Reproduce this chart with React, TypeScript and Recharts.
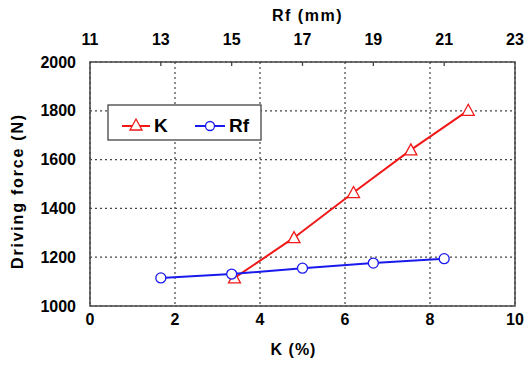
import React from 'react';
import { LineChart, Line, XAxis, YAxis, CartesianGrid, ReferenceArea, ReferenceLine, Label } from 'recharts';

// K (%) series, plotted on the bottom axis
const kValues = [3.4, 4.8, 6.2, 7.55, 8.9];
const kForce = [1115, 1280, 1465, 1640, 1802];

// Rf (mm) series, plotted on the top axis
const rfValues = [13, 15, 17, 19, 21];
const rfForce = [1115, 1131, 1155, 1176, 1194];

const kTicks = [0, 2, 4, 6, 8, 10];
const rfTicks = [11, 13, 15, 17, 19, 21, 23];
const forceTicks = [1000, 1200, 1400, 1600, 1800, 2000];

const kData = kValues.map((k, i) => ({ k, force: kForce[i] }));
const rfData = rfValues.map((rf, i) => ({ rf, force: rfForce[i] }));

const RED = '#f01818';
const BLUE = '#1a1aee';
const FONT = '"Liberation Sans", Arial, sans-serif';
const tickStyle = { fontFamily: FONT, fontSize: 16, fontWeight: 700, fill: '#000' };
const titleStyle = { fontFamily: FONT, fontSize: 16, fontWeight: 700, fill: '#000', letterSpacing: 1 };

const Triangle = (props: any) => {
  const { cx, cy } = props;
  if (cx == null || cy == null) return null;
  return (
    <path
      d={`M${cx},${cy - 6} L${cx + 6},${cy + 5} L${cx - 6},${cy + 5} Z`}
      fill="#fff"
      stroke={RED}
      strokeWidth={1.3}
    />
  );
};

// rotated y-axis title, sits a bit below the plot middle like the original
const YTitle = (props: any) => {
  const vb = props.viewBox || {};
  const x = 17;
  const y = vb.y + vb.height / 2 + 7;
  return (
    <text
      x={x}
      y={y}
      transform={`rotate(-90, ${x}, ${y})`}
      textAnchor="middle"
      dominantBaseline="central"
      style={{ ...titleStyle, letterSpacing: 1.8 }}
    >
      Driving force (N)
    </text>
  );
};

function LegendBox() {
  return (
    <svg
      width={156}
      height={38}
      style={{ position: 'absolute', left: 107, top: 104 }}
    >
      <rect x={1} y={1} width={153} height={35} fill="#fff" stroke="#444" strokeWidth={1.3} />
      <line x1={15} y1={22} x2={43} y2={22} stroke={RED} strokeWidth={2} />
      <Triangle cx={29} cy={21} />
      <text x={47} y={28} fontFamily={FONT} fontSize={19} fontWeight={700}>K</text>
      <line x1={88} y1={22} x2={118} y2={22} stroke={BLUE} strokeWidth={2} />
      <circle cx={103} cy={22} r={4.5} fill="#fff" stroke={BLUE} strokeWidth={1.3} />
      <text x={122} y={28} fontFamily={FONT} fontSize={19} fontWeight={700}>Rf</text>
    </svg>
  );
}

export default function App() {
  return (
    <div style={{ position: 'absolute', left: 0, top: 0, width: 526, height: 366, background: '#fff' }}>
      <LineChart width={526} height={366} margin={{ top: 20, right: 11, bottom: 0, left: 0 }}>
        <CartesianGrid
          xAxisId="k"
          yAxisId="f"
          stroke="#444"
          strokeDasharray="2 3"
          strokeWidth={1.2}
        />
        <XAxis
          xAxisId="k"
          dataKey="k"
          type="number"
          domain={[0, 10]}
          ticks={kTicks}
          orientation="bottom"
          height={60}
          tickLine={false}
          axisLine={false}
          tick={tickStyle}
          allowDataOverflow
        >
          <Label value="K (%)" position="insideBottom" offset={11} dx={-9} style={titleStyle} />
        </XAxis>
        <XAxis
          xAxisId="rf"
          dataKey="rf"
          type="number"
          domain={[11, 23]}
          ticks={rfTicks}
          orientation="top"
          height={42}
          tickLine={false}
          tickSize={-4}
          tickMargin={21}
          axisLine={false}
          tick={tickStyle}
          allowDataOverflow
        >
          <Label value="Rf (mm)" position="insideTop" offset={-10} dx={5} style={{ ...titleStyle, letterSpacing: 1.5 }} />
        </XAxis>
        <YAxis
          yAxisId="f"
          type="number"
          domain={[1000, 2000]}
          ticks={forceTicks}
          width={90}
          tickLine={false}
          axisLine={false}
          tickMargin={8}
          tick={tickStyle}
        >
          <Label content={<YTitle />} />
        </YAxis>
        {/* short inward tick marks under the top Rf axis */}
        {rfTicks.slice(1, -1).map((t) => (
          <ReferenceLine
            key={t}
            xAxisId="rf"
            yAxisId="f"
            segment={[{ x: t, y: 2000 }, { x: t, y: 1984 }]}
            stroke="#444"
            strokeWidth={1.3}
          />
        ))}
        <ReferenceArea
          xAxisId="k"
          yAxisId="f"
          x1={0}
          x2={10}
          y1={1000}
          y2={2000}
          fill="none"
          stroke="#444"
          strokeWidth={1.5}
          ifOverflow="visible"
        />
        <Line
          xAxisId="k"
          yAxisId="f"
          data={kData}
          dataKey="force"
          stroke={RED}
          strokeWidth={2}
          dot={<Triangle />}
          isAnimationActive={false}
        />
        <Line
          xAxisId="rf"
          yAxisId="f"
          data={rfData}
          dataKey="force"
          stroke={BLUE}
          strokeWidth={2}
          dot={{ r: 5, fill: '#fff', stroke: BLUE, strokeWidth: 1.3 }}
          isAnimationActive={false}
        />
      </LineChart>
      <LegendBox />
    </div>
  );
}
